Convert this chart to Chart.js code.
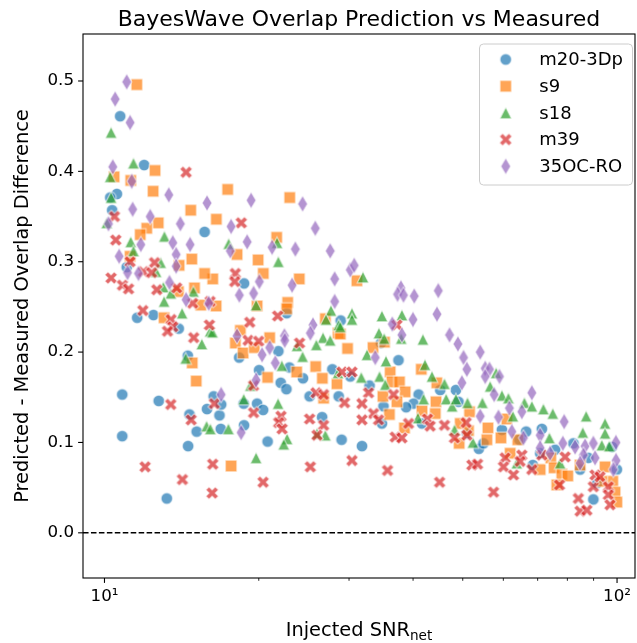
<!DOCTYPE html>
<html><head><meta charset="utf-8">
<script src="https://cdn.jsdelivr.net/npm/chart.js@4/dist/chart.umd.min.js"></script>
<style>html,body{margin:0;padding:0;background:#fff;}canvas{display:block;}</style>
</head><body>
<canvas id="c" width="637" height="643"></canvas>
<script>
// ---------- data: [Injected SNR_net, predicted - measured overlap difference] ----------
const seriesNames = ['m20-3Dp', 's9', 's18', 'm39', '35OC-RO'];

const m20_3Dp = [[10.73,0.461],[11.95,0.407],[10.57,0.375],[10.26,0.371],[10.35,0.357],[15.68,0.333],[11.05,0.294],[11.58,0.238],[12.46,0.241],[13.96,0.226],[14.54,0.196],[10.83,0.153],[12.76,0.146],[16.33,0.151],[15.85,0.137],[14.65,0.131],[16.76,0.130],[15.13,0.112],[16.86,0.115],[10.83,0.107],[14.56,0.096],[13.23,0.038],[18.72,0.276],[22.67,0.243],[28.89,0.235],[21.84,0.201],[18.31,0.194],[20.03,0.180],[22.95,0.183],[24.39,0.171],[22.07,0.166],[22.64,0.159],[27.83,0.181],[30.17,0.173],[28.63,0.151],[25.13,0.151],[18.69,0.143],[19.85,0.143],[20.39,0.136],[16.89,0.142],[18.72,0.119],[20.81,0.101],[26.58,0.128],[29.01,0.103],[34.61,0.210],[37.46,0.191],[32.89,0.163],[41.0,0.153],[40.07,0.143],[38.78,0.139],[35.02,0.140],[34.77,0.121],[45.19,0.158],[48.48,0.158],[49.05,0.145],[41.63,0.121],[31.79,0.096],[50.93,0.110],[53.75,0.093],[54.87,0.099],[59.61,0.114],[66.47,0.112],[71.33,0.115],[64.5,0.103],[75.7,0.092],[82.2,0.099],[87.9,0.083],[68.5,0.075],[89.9,0.037],[99.9,0.070],[84.7,0.070],[70.8,0.088],[91.4,0.055],[97.8,0.095]];

const s9 = [[11.56,0.496],[12.55,0.401],[10.44,0.394],[11.25,0.390],[12.44,0.378],[14.73,0.357],[12.73,0.343],[12.09,0.337],[11.74,0.330],[16.53,0.347],[14.80,0.303],[17.39,0.380],[22.98,0.371],[21.67,0.327],[18.14,0.308],[19.94,0.302],[20.41,0.287],[16.26,0.281],[23.99,0.281],[16.51,0.251],[19.85,0.251],[22.77,0.255],[22.67,0.248],[18.41,0.224],[21.0,0.216],[18.0,0.210],[18.64,0.199],[19.6,0.205],[26.97,0.237],[28.55,0.221],[29.80,0.204],[15.68,0.287],[13.98,0.296],[14.98,0.271],[13.94,0.267],[15.41,0.252],[13.07,0.238],[14.83,0.188],[15.10,0.168],[11.22,0.306],[20.81,0.172],[23.71,0.178],[25.82,0.184],[26.61,0.171],[28.42,0.165],[26.76,0.149],[17.66,0.074],[31.08,0.279],[33.41,0.205],[35.18,0.211],[36.09,0.178],[41.5,0.181],[28.84,0.220],[36.37,0.167],[37.63,0.167],[38.6,0.156],[34.93,0.151],[37.20,0.145],[35.97,0.131],[44.33,0.145],[44.19,0.132],[41.63,0.135],[38.48,0.116],[51.54,0.134],[49.43,0.121],[51.30,0.113],[49.2,0.099],[55.98,0.116],[55.72,0.103],[44.5,0.166],[60.95,0.126],[59.35,0.105],[64.03,0.103],[61.86,0.088],[70.8,0.070],[74.26,0.083],[75.36,0.072],[78.02,0.065],[80.15,0.063],[76.29,0.053],[94.75,0.073],[98.08,0.057],[99.1,0.045],[99.9,0.034],[93.37,0.057],[84.7,0.075]];

const s18 = [[10.30,0.443],[11.39,0.409],[10.26,0.394],[10.30,0.371],[10.10,0.343],[13.09,0.328],[11.25,0.322],[11.39,0.312],[12.87,0.299],[12.61,0.289],[13.03,0.272],[13.47,0.265],[13.07,0.256],[14.17,0.243],[14.91,0.267],[16.07,0.223],[15.48,0.209],[14.40,0.193],[15.82,0.118],[17.47,0.320],[21.71,0.321],[21.84,0.300],[19.76,0.252],[16.24,0.222],[27.66,0.246],[27.05,0.236],[28.63,0.230],[26.69,0.216],[27.57,0.213],[25.90,0.208],[23.75,0.207],[24.35,0.195],[22.17,0.185],[19.26,0.163],[18.69,0.148],[21.81,0.143],[17.45,0.115],[22.71,0.104],[22.37,0.098],[19.76,0.083],[26.97,0.108],[25.98,0.110],[16.09,0.115],[28.55,0.177],[31.94,0.283],[30.4,0.243],[30.4,0.236],[34.77,0.240],[38.04,0.241],[34.31,0.221],[35.14,0.215],[37.92,0.215],[41.81,0.214],[32.52,0.197],[35.41,0.190],[42.19,0.186],[28.84,0.228],[34.40,0.173],[43.54,0.173],[31.70,0.172],[35.30,0.164],[46.06,0.165],[41.93,0.148],[46.41,0.148],[47.67,0.140],[48.48,0.148],[51.07,0.144],[54.62,0.144],[40.88,0.127],[48.17,0.114],[52.32,0.100],[58.09,0.177],[56.55,0.162],[59.61,0.152],[61.39,0.149],[62.62,0.129],[65.95,0.144],[68.19,0.140],[71.83,0.137],[74.92,0.132],[87.04,0.129],[94.75,0.121],[85.74,0.111],[94.75,0.110],[93.37,0.097],[96.6,0.096],[73.79,0.105],[63.74,0.077],[77.45,0.077]];

const m39 = [[14.43,0.399],[10.46,0.350],[10.52,0.324],[11.22,0.300],[12.52,0.299],[10.30,0.282],[10.84,0.274],[11.14,0.270],[11.91,0.289],[12.36,0.288],[12.65,0.269],[13.83,0.271],[14.86,0.254],[16.07,0.256],[11.88,0.246],[13.49,0.236],[13.59,0.228],[13.27,0.223],[16.02,0.230],[14.93,0.216],[13.47,0.142],[16.38,0.143],[14.76,0.125],[12.00,0.073],[14.19,0.059],[16.26,0.076],[16.22,0.044],[18.49,0.343],[18.0,0.287],[17.95,0.278],[19.2,0.233],[21.77,0.240],[19.06,0.213],[19.99,0.212],[24.02,0.210],[19.54,0.163],[19.54,0.133],[22.1,0.129],[21.87,0.122],[22.21,0.115],[25.13,0.126],[26.76,0.119],[25.98,0.108],[25.86,0.155],[26.76,0.153],[29.40,0.144],[29.06,0.178],[25.21,0.073],[20.39,0.056],[37.20,0.230],[30.4,0.178],[32.75,0.155],[31.79,0.143],[33.49,0.132],[34.25,0.125],[31.79,0.125],[36.64,0.153],[39.19,0.121],[36.92,0.106],[38.04,0.105],[42.67,0.126],[43.19,0.118],[46.06,0.119],[48.17,0.105],[50.77,0.122],[50.93,0.108],[30.4,0.080],[35.66,0.069],[45.06,0.056],[52.10,0.075],[53.44,0.076],[57.41,0.045],[60.5,0.083],[60.04,0.073],[62.79,0.064],[65.2,0.086],[64.7,0.079],[68.19,0.070],[71.33,0.086],[77.2,0.053],[79.18,0.084],[84.04,0.038],[84.7,0.024],[87.31,0.025],[89.9,0.051],[90.6,0.064],[92.65,0.062],[96.16,0.051],[96.16,0.042],[96.9,0.031]];

const oc35_RO = [[11.05,0.499],[10.49,0.480],[11.22,0.454],[10.38,0.405],[11.30,0.389],[13.35,0.374],[11.35,0.358],[12.28,0.350],[15.85,0.365],[14.06,0.342],[10.18,0.342],[13.59,0.321],[14.69,0.319],[11.77,0.319],[13.80,0.308],[10.68,0.306],[11.09,0.288],[11.65,0.287],[13.80,0.295],[13.39,0.277],[14.43,0.258],[15.97,0.254],[19.32,0.368],[24.35,0.364],[17.66,0.339],[25.78,0.337],[18.98,0.322],[21.23,0.316],[23.57,0.314],[17.60,0.312],[27.57,0.312],[20.05,0.278],[28.12,0.281],[23.23,0.274],[18.33,0.263],[19.54,0.265],[28.12,0.256],[18.14,0.218],[22.44,0.218],[25.51,0.230],[25.21,0.221],[21.0,0.205],[20.30,0.197],[21.54,0.188],[19.76,0.169],[16.89,0.153],[18.48,0.111],[30.17,0.291],[30.71,0.296],[37.87,0.271],[37.30,0.264],[38.31,0.263],[40.21,0.262],[44.80,0.268],[44.53,0.242],[39.98,0.236],[36.43,0.231],[38.04,0.219],[47.12,0.219],[48.92,0.209],[50.17,0.194],[50.93,0.181],[54.08,0.200],[55.31,0.182],[33.75,0.194],[49.81,0.166],[54.08,0.129],[56.38,0.181],[55.31,0.173],[58.96,0.173],[57.57,0.153],[68.19,0.155],[61.66,0.138],[65.2,0.134],[58.70,0.128],[78.85,0.123],[62.33,0.112],[65.66,0.105],[70.8,0.108],[78.39,0.099],[70.8,0.094],[74.02,0.088],[82.83,0.095],[86.64,0.096],[89.9,0.099],[85.98,0.086],[90.6,0.083],[99.54,0.080],[98.36,0.070],[84.7,0.077],[22.47,0.213],[99.5,0.100]];

const xTickValues = [10, 20, 30, 40, 50, 60, 70, 80, 90, 100];
const xTickLabels = {10: '10\u00B9', 100: '10\u00B2'};
const yTickValues = [0.0, 0.1, 0.2, 0.3, 0.4, 0.5];
const titleText = 'BayesWave Overlap Prediction vs Measured';
const xLabelMain = 'Injected SNR';
const xLabelSub = 'net';
const yLabelText = 'Predicted - Measured Overlap Difference';

// ---------- styling ----------
const FONT = '"DejaVu Sans", "Liberation Sans", sans-serif';
const colors = ['31,119,180', '255,127,14', '44,160,44', '214,39,40', '148,103,189'];
const shapes = ['circle', 'square', 'triangle', 'xfill', 'thindiamond'];

function makeMarker(kind, rgb) {
  const c = document.createElement('canvas');
  c.width = 24; c.height = 24;
  const g = c.getContext('2d');
  const ms = 11.6, cx = 12, cy = 12, h = ms / 2;
  g.beginPath();
  if (kind === 'circle') g.arc(cx, cy, h, 0, Math.PI * 2);
  else if (kind === 'square') g.rect(cx - h, cy - h, ms, ms);
  else if (kind === 'triangle') { g.moveTo(cx, cy - h); g.lineTo(cx + h, cy + h); g.lineTo(cx - h, cy + h); g.closePath(); }
  else if (kind === 'xfill') {
    const p = [[-1,-2],[0,-1],[1,-2],[2,-1],[1,0],[2,1],[1,2],[0,1],[-1,2],[-2,1],[-1,0],[-2,-1]];
    const s = ms * 1.08;
    p.forEach((q, i) => { const x = cx + q[0] / 4 * s, y = cy + q[1] / 4 * s; if (i) g.lineTo(x, y); else g.moveTo(x, y); });
    g.closePath();
  } else if (kind === 'thindiamond') {
    const dh = ms * Math.SQRT2 / 2, dw = dh * 0.6;
    g.moveTo(cx, cy - dh); g.lineTo(cx + dw, cy); g.lineTo(cx, cy + dh); g.lineTo(cx - dw, cy); g.closePath();
  }
  g.fillStyle = 'rgba(' + rgb + ',0.7)';
  g.fill();
  g.lineWidth = 1.2;
  g.strokeStyle = 'rgba(255,255,255,0.6)';
  g.stroke();
  return c;
}
const markers = shapes.map((s, i) => makeMarker(s, colors[i]));

const seriesData = [m20_3Dp, s9, s18, m39, oc35_RO];
const datasets = seriesData.map((arr, i) => ({
  label: seriesNames[i],
  data: arr.map(p => ({x: p[0], y: p[1]})),
  pointStyle: markers[i],
  pointRadius: 6,
  pointHoverRadius: 6,
  showLine: false,
  order: 5 - i
}));

// ---------- custom drawing: frame, ticks, zero line, title, labels, legend ----------
const decor = {
  id: 'decor',
  afterDatasetsDraw(chart) {
    const ctx = chart.ctx, a = chart.chartArea;
    const ys = chart.scales.y;
    ctx.save();
    const y0 = ys.getPixelForValue(0);
    ctx.strokeStyle = '#000';
    ctx.lineWidth = 1.5;
    ctx.setLineDash([5.55, 2.4]);
    ctx.beginPath(); ctx.moveTo(a.left, y0); ctx.lineTo(a.right, y0); ctx.stroke();
    ctx.setLineDash([]);
    ctx.restore();
  },
  afterDraw(chart) {
    const ctx = chart.ctx, a = chart.chartArea;
    const xs = chart.scales.x, ys = chart.scales.y;
    ctx.save();
    // frame
    ctx.strokeStyle = '#000';
    ctx.lineWidth = 1.1;
    ctx.strokeRect(a.left, a.top, a.right - a.left, a.bottom - a.top);
    // x ticks (major for decades, minor otherwise)
    xTickValues.forEach(v => {
      const px = xs.getPixelForValue(v);
      const major = (v === 10 || v === 100);
      ctx.lineWidth = major ? 1.1 : 0.85;
      ctx.beginPath(); ctx.moveTo(px, a.bottom); ctx.lineTo(px, a.bottom + (major ? 4.9 : 2.8)); ctx.stroke();
    });
    yTickValues.forEach(v => {
      const py = ys.getPixelForValue(v);
      ctx.lineWidth = 1.1;
      ctx.beginPath(); ctx.moveTo(a.left, py); ctx.lineTo(a.left - 4.9, py); ctx.stroke();
    });
    // title
    ctx.fillStyle = '#000';
    ctx.font = '22px ' + FONT;
    ctx.textAlign = 'center';
    ctx.textBaseline = 'alphabetic';
    ctx.fillText(titleText, (a.left + a.right) / 2, 25.5);
    // x label with subscript
    ctx.font = '19.4px ' + FONT;
    const w1 = ctx.measureText(xLabelMain).width;
    ctx.font = '13.6px ' + FONT;
    const w2 = ctx.measureText(xLabelSub).width;
    const startX = (a.left + a.right) / 2 - (w1 + w2) / 2;
    ctx.textAlign = 'left';
    ctx.font = '19.4px ' + FONT;
    ctx.fillText(xLabelMain, startX, 636);
    ctx.font = '13.6px ' + FONT;
    ctx.fillText(xLabelSub, startX + w1, 640);
    // y label
    ctx.save();
    ctx.translate(28, (a.top + a.bottom) / 2);
    ctx.rotate(-Math.PI / 2);
    ctx.textAlign = 'center';
    ctx.font = '19.4px ' + FONT;
    ctx.fillText(yLabelText, 0, 0);
    ctx.restore();
    // legend
    const lx = 479.5, ly = 44, lw = 153, lh = 141, r = 4;
    ctx.beginPath();
    ctx.moveTo(lx + r, ly); ctx.lineTo(lx + lw - r, ly); ctx.arcTo(lx + lw, ly, lx + lw, ly + r, r);
    ctx.lineTo(lx + lw, ly + lh - r); ctx.arcTo(lx + lw, ly + lh, lx + lw - r, ly + lh, r);
    ctx.lineTo(lx + r, ly + lh); ctx.arcTo(lx, ly + lh, lx, ly + lh - r, r);
    ctx.lineTo(lx, ly + r); ctx.arcTo(lx, ly, lx + r, ly, r); ctx.closePath();
    ctx.fillStyle = 'rgba(255,255,255,0.8)';
    ctx.fill();
    ctx.strokeStyle = '#cccccc';
    ctx.lineWidth = 1;
    ctx.stroke();
    ctx.font = '18px ' + FONT;
    ctx.fillStyle = '#000';
    ctx.textAlign = 'left';
    ctx.textBaseline = 'middle';
    chart.data.datasets.forEach((ds, i) => {
      const yy = 59.5 + i * 26.7;
      const m = ds.pointStyle;
      ctx.drawImage(m, 505.7 - m.width / 2, yy - m.height / 2);
      ctx.fillText(ds.label, 539.3, yy + 1);
    });
    ctx.restore();
  }
};

new Chart(document.getElementById('c'), {
  type: 'scatter',
  data: {datasets},
  options: {
    responsive: false,
    animation: false,
    events: [],
    layout: {autoPadding: false, padding: {top: 34, right: 2, left: 0, bottom: 0}},
    plugins: {legend: {display: false}, tooltip: {enabled: false}, title: {display: false}},
    scales: {
      x: {
        type: 'logarithmic',
        min: 9.08,
        max: 108.4,
        afterBuildTicks: s => { s.ticks = xTickValues.map(v => ({value: v})); },
        afterFit: s => { s.height = 65; s.paddingLeft = 0; s.paddingRight = 0; },
        ticks: {
          autoSkip: false, maxRotation: 0, minRotation: 0, padding: 4, color: '#000',
          font: {family: FONT, size: 16.7},
          callback: v => xTickLabels[v] || ''
        },
        grid: {display: true, drawOnChartArea: false, drawTicks: true, tickLength: 5, color: 'rgba(0,0,0,0)'},
        border: {display: false}
      },
      y: {
        type: 'linear',
        min: -0.05,
        max: 0.552,
        afterBuildTicks: s => { s.ticks = yTickValues.map(v => ({value: v})); },
        afterFit: s => { s.width = 83; s.paddingTop = 0; s.paddingBottom = 0; },
        ticks: {
          padding: 4, color: '#000',
          font: {family: FONT, size: 16.7},
          callback: v => Number(v).toFixed(1)
        },
        grid: {display: true, drawOnChartArea: false, drawTicks: true, tickLength: 5, color: 'rgba(0,0,0,0)'},
        border: {display: false}
      }
    }
  },
  plugins: [decor]
});
</script>
</body></html>
